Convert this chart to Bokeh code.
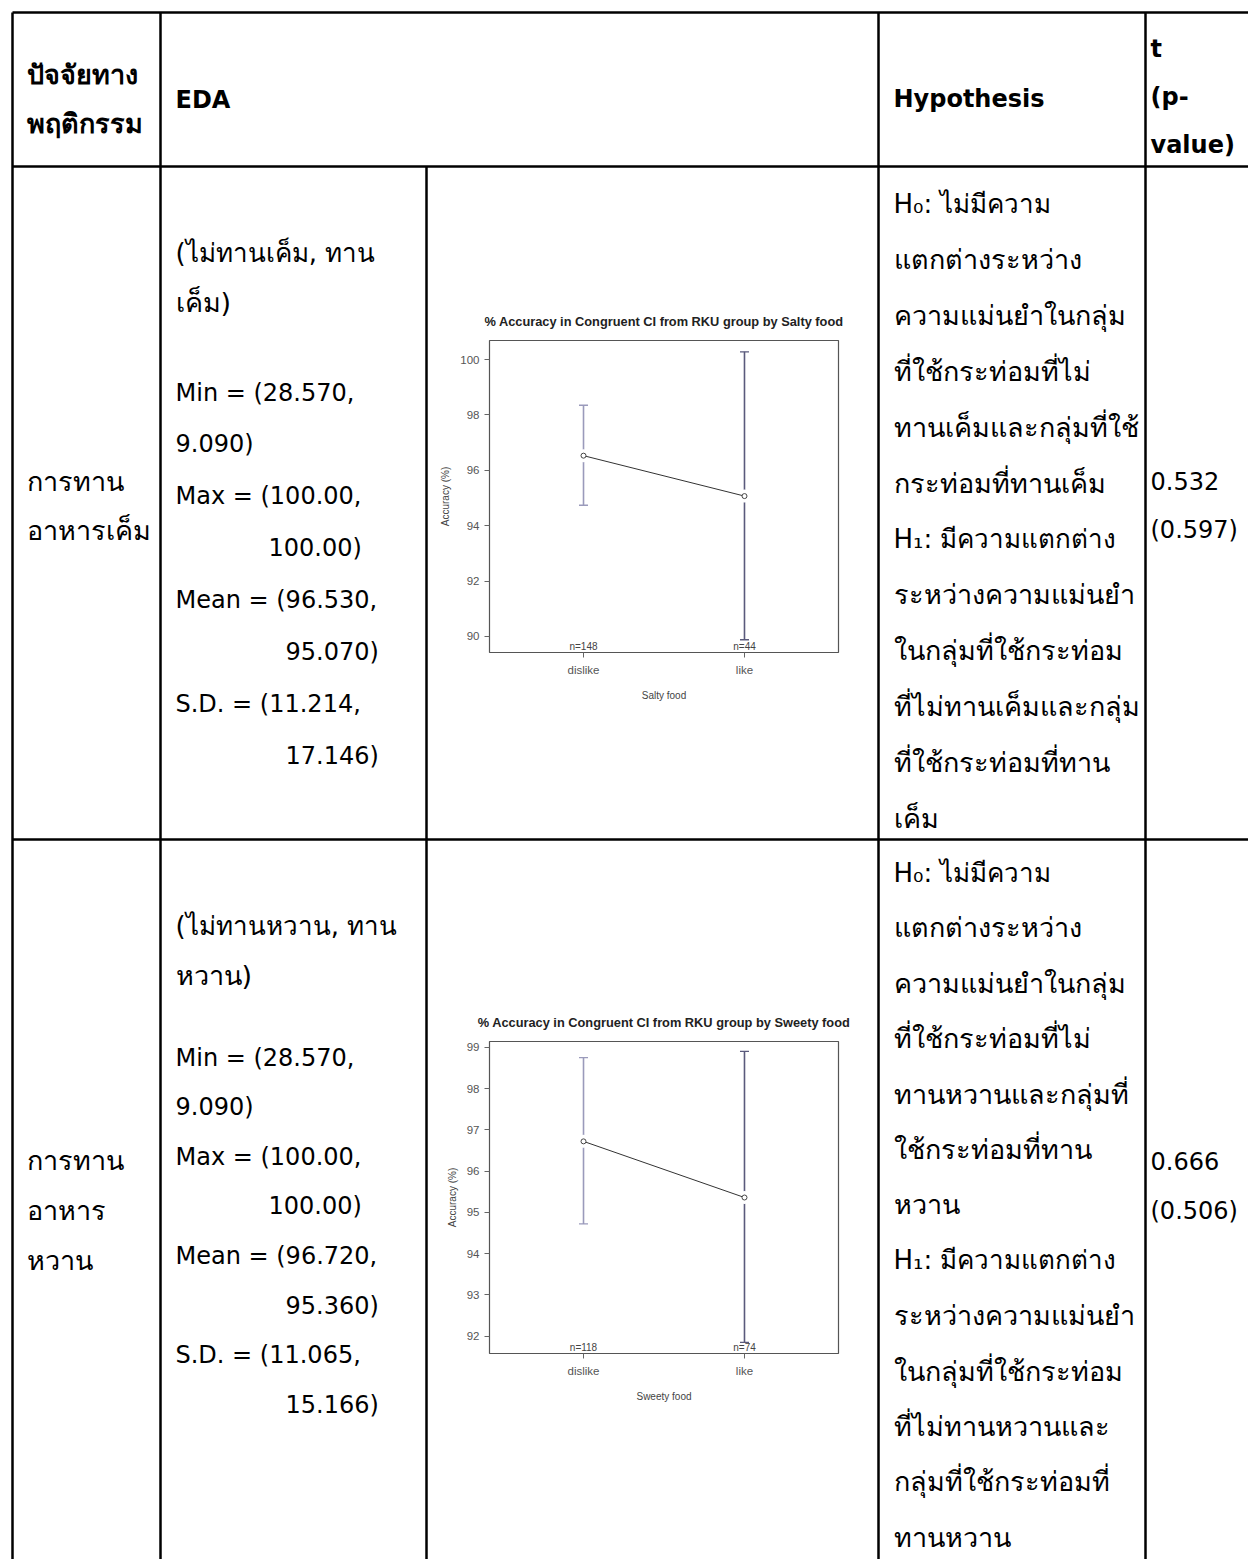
import re
import numpy as np
from bokeh.plotting import figure
from bokeh.models import Range1d, FactorRange, SingleIntervalTicker, GridBox
from bokeh.core.properties import value
from bokeh.embed import file_html
from bokeh.resources import INLINE

# ---------------- data ----------------
groups = ["dislike", "like"]

salty_mean = [96.530, 95.070]
salty_lower = [94.74, 89.88]
salty_upper = [98.35, 100.28]
salty_n = [148, 44]
salty_min = [28.570, 9.090]
salty_max = [100.00, 100.00]
salty_sd = [11.214, 17.146]

sweet_mean = [96.720, 95.360]
sweet_lower = [94.72, 91.85]
sweet_upper = [98.75, 98.90]
sweet_n = [118, 74]
sweet_min = [28.570, 9.090]
sweet_max = [100.00, 100.00]
sweet_sd = [11.065, 15.166]

t_values = [0.532, 0.666]
p_values = [0.597, 0.506]

salty_ylim = [89.42, 100.69]
sweet_ylim = [91.58, 99.14]

headers = ["ปัจจัยทาง\nพฤติกรรม", "EDA", "Hypothesis", "t\n(p-\nvalue)"]
factor_names = [["การทาน", "อาหารเค็ม"], ["การทาน", "อาหาร", "หวาน"]]
eda_groups = [["(ไม่ทานเค็ม, ทาน", "เค็ม)"], ["(ไม่ทานหวาน, ทาน", "หวาน)"]]
hyp_lines = [
    ["H₀: ไม่มีความ", "แตกต่างระหว่าง", "ความแม่นยำในกลุ่ม", "ที่ใช้กระท่อมที่ไม่",
     "ทานเค็มและกลุ่มที่ใช้", "กระท่อมที่ทานเค็ม", "H₁: มีความแตกต่าง",
     "ระหว่างความแม่นยำ", "ในกลุ่มที่ใช้กระท่อม", "ที่ไม่ทานเค็มและกลุ่ม",
     "ที่ใช้กระท่อมที่ทาน", "เค็ม"],
    ["H₀: ไม่มีความ", "แตกต่างระหว่าง", "ความแม่นยำในกลุ่ม", "ที่ใช้กระท่อมที่ไม่",
     "ทานหวานและกลุ่มที่", "ใช้กระท่อมที่ทาน", "หวาน", "H₁: มีความแตกต่าง",
     "ระหว่างความแม่นยำ", "ในกลุ่มที่ใช้กระท่อม", "ที่ไม่ทานหวานและ",
     "กลุ่มที่ใช้กระท่อมที่", "ทานหวาน"],
]

FONT = "DejaVu Sans"

# ---------------- table figure ----------------
W, H = 1248, 1559
tbl = figure(width=W, height=H, x_range=Range1d(0, W), y_range=Range1d(H, 0),
             output_backend="svg", toolbar_location=None, min_border=0)
tbl.axis.visible = False
tbl.grid.visible = False
tbl.outline_line_color = None
tbl.background_fill_color = "white"
tbl.border_fill_color = "white"

XL, XC1, XC2, XH, XT, XR = 12, 160, 426, 878, 1145, 1260
YT, YH, YR1, YB = 12, 166, 839, 1580
vx0 = [XL, XC1, XC2, XH, XT]
vy0 = [YT, YT, YH, YT, YT]
tbl.segment(x0=vx0, y0=vy0, x1=vx0, y1=[YB] * 5, line_color="black", line_width=2.5)
hy = [YT, YH, YR1]
tbl.segment(x0=[XL] * 3, y0=hy, x1=[XR] * 3, y1=hy, line_color="black", line_width=2.5)

THAI = re.compile("[\u0E00-\u0E7F]")
LATIN = re.compile("[A-Za-z0-9]")


def size_for(s):
    if THAI.search(s):
        return "26px" if LATIN.search(s) or "(" in s else "27px"
    return "24px"


def put(lines, x, ys, bold=False, align="left"):
    xlist = x if isinstance(x, list) else [x] * len(lines)
    groups_by_size = {}
    for xi, s, y in zip(xlist, lines, ys):
        if s:
            groups_by_size.setdefault(size_for(s), []).append((xi, y, s))
    for fs, items in groups_by_size.items():
        tbl.text(x=[i[0] for i in items], y=[i[1] for i in items], text=[i[2] for i in items],
                 text_font=value(FONT), text_font_size=fs,
                 text_font_style="bold" if bold else "normal", text_color="black",
                 text_baseline="alphabetic", text_align=align)


def seq(y0, dy, n):
    return [y0 + dy * i for i in range(n)]


# headers
put(headers[0].split("\n"), 26, [74, 123], bold=True)
put([headers[1]], 175, [99], bold=True)
put([headers[2]], 893, [98], bold=True)
put(headers[3].split("\n"), 1150, [48, 96, 144], bold=True)

stats = [
    (salty_min, salty_max, salty_mean, salty_sd),
    (sweet_min, sweet_max, sweet_mean, sweet_sd),
]
col1_y = [[481, 530], [1160, 1210, 1260]]
t_y = [[480, 529], [1160, 1210]]
eda_top_y = [[252, 302], [925, 975]]
eda_stat_y = [seq(392, 51.9, 8), seq(1057, 49.6, 8)]
hyp_y = [seq(203, 55.9, 12), seq(872, 55.4, 13)]

for r in range(2):
    mn, mx, me, sd = stats[r]
    put(factor_names[r], 26, col1_y[r])
    eda = [f"Min = ({mn[0]:.3f},", f"{mn[1]:.3f})",
           f"Max = ({mx[0]:.2f},", f"{mx[1]:.2f})",
           f"Mean = ({me[0]:.3f},", f"{me[1]:.3f})",
           f"S.D. = ({sd[0]:.3f},", f"{sd[1]:.3f})"]
    ex = [175, 175, 175, 268, 175, 285, 175, 285]
    put(eda_groups[r], 175, eda_top_y[r])
    put(eda, ex, eda_stat_y[r])
    put(hyp_lines[r], 893, hyp_y[r])
    put([f"{t_values[r]:.3f}", f"({p_values[r]:.3f})"], 1150, t_y[r])


# ---------------- charts ----------------
def make_chart(title, xlabel, means, lower, upper, ns, ylim, interval):
    p = figure(width=440, height=420,
               x_range=FactorRange(factors=groups, range_padding=0.084,
                                   range_padding_units="absolute"),
               y_range=Range1d(ylim[0], ylim[1]),
               output_backend="svg", toolbar_location=None,
               min_border_left=57, min_border_right=34,
               min_border_top=44, min_border_bottom=64)
    p.grid.visible = False
    p.outline_line_color = "#555555"
    p.outline_line_width = 1.2
    p.background_fill_color = "white"
    p.border_fill_color = "white"

    p.title.text = title
    p.title.align = "center"
    p.title.text_font = "Liberation Sans"
    p.title.text_font_size = "12.8px"
    p.title.text_font_style = "bold"
    p.title.text_color = "#222222"
    p.title.standoff = 24

    for ax in (p.xaxis[0], p.yaxis[0]):
        ax.axis_line_color = None
        ax.major_tick_line_color = "#666666"
        ax.major_tick_out = 5
        ax.major_tick_in = 0
        ax.minor_tick_line_color = None
        ax.major_label_text_font = "Liberation Sans"
        ax.major_label_text_font_size = "11.5px"
        ax.major_label_text_color = "#555555"
        ax.axis_label_text_font = "Liberation Sans"
        ax.axis_label_text_font_size = "10px"
        ax.axis_label_text_font_style = "normal"
        ax.axis_label_text_color = "#444444"
    p.yaxis.ticker = SingleIntervalTicker(interval=interval)
    p.yaxis.axis_label = "Accuracy (%)"
    p.yaxis.axis_label_standoff = 6
    p.yaxis.major_label_standoff = 5
    p.xaxis.axis_label = xlabel
    p.xaxis.axis_label_standoff = 11
    p.xaxis.major_label_standoff = 6

    bar_colors = ["#9a9abb", "#5a5a7c"]
    p.segment(x0=groups, y0=lower, x1=groups, y1=upper, line_color=bar_colors, line_width=1.6)
    p.scatter(x=groups, y=upper, marker="dash", size=9, line_color=bar_colors, line_width=1.4)
    p.scatter(x=groups, y=lower, marker="dash", size=9, line_color=bar_colors, line_width=1.4)
    p.scatter(x=groups, y=means, marker="circle", size=13, fill_color="white", line_color=None)
    p.line(x=groups, y=means, line_color="#333333", line_width=1)
    p.scatter(x=groups, y=means, marker="circle", size=5, fill_color="white",
              line_color="#444444", line_width=1)
    p.text(x=groups, y=[ylim[0]] * len(groups), text=[f"n={n}" for n in ns],
           text_font=value("Liberation Sans"), text_font_size="10px", text_color="#444444",
           text_align="center", text_baseline="bottom", y_offset=-1)
    return p


c1 = make_chart("% Accuracy in Congruent CI from RKU group by Salty food", "Salty food",
                salty_mean, salty_lower, salty_upper, salty_n, salty_ylim, 2)
c2 = make_chart("% Accuracy in Congruent CI from RKU group by Sweety food", "Sweety food",
                sweet_mean, sweet_lower, sweet_upper, sweet_n, sweet_ylim, 1)

grid = GridBox(children=[(tbl, 0, 0, 5, 3), (c1, 1, 1), (c2, 3, 1)],
               rows=["296px", "420px", "281px", "420px", "142px"],
               cols=["432px", "440px", "376px"], spacing=0)

open("out.html", "w").write(file_html(grid, INLINE, title="EDA table"))
